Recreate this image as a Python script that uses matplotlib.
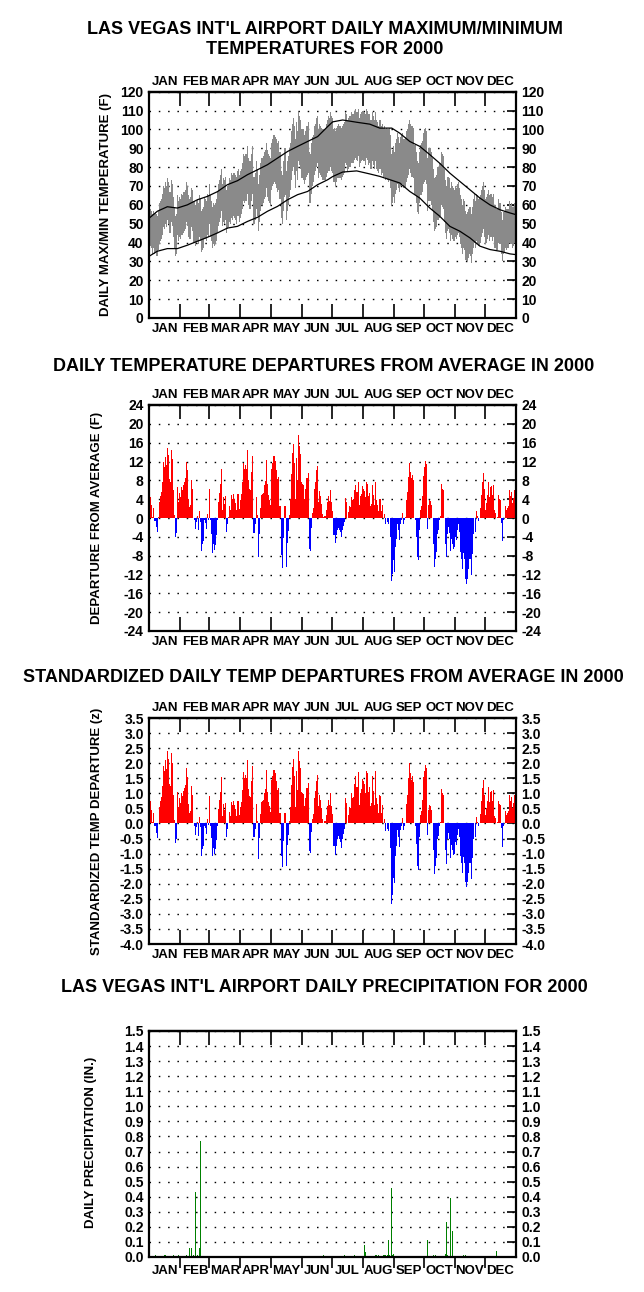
import numpy as np
import matplotlib
matplotlib.use("Agg")
import matplotlib.pyplot as plt
from matplotlib.ticker import FixedLocator, FixedFormatter, NullFormatter

plt.rcParams['font.family'] = ['Liberation Sans', 'DejaVu Sans']
plt.rcParams['font.weight'] = 'bold'
plt.rcParams['axes.unicode_minus'] = False

MONTHS = ['JAN', 'FEB', 'MAR', 'APR', 'MAY', 'JUN', 'JUL', 'AUG', 'SEP', 'OCT', 'NOV', 'DEC']
MONTH_LENGTHS = [31, 29, 31, 30, 31, 30, 31, 31, 30, 31, 30, 31]

# Daily maximum / minimum temperature (F), one line per month
TMAX = [
    61, 58, 57, 55, 57, 55, 56, 55, 54, 57, 61, 62, 63, 66, 70, 69, 72, 70, 74, 72, 67, 67, 73, 71, 64, 59, 54, 55, 65, 62, 64,
    63, 66, 65, 67, 67, 68, 72, 70, 65, 63, 64, 69, 68, 62, 62, 60, 62, 63, 61, 65, 63, 57, 58, 59, 64, 63, 62, 66, 65,
    71, 65, 62, 59, 61, 60, 61, 63, 67, 71, 73, 76, 79, 71, 74, 73, 75, 68, 70, 71, 74, 73, 77, 76, 77, 77, 76, 75, 78, 79, 76,
    78, 79, 82, 87, 86, 87, 87, 91, 85, 83, 83, 87, 91, 75, 77, 83, 79, 71, 76, 82, 85, 85, 86, 88, 89, 93, 89, 87, 86, 85,
    93, 95, 97, 97, 96, 95, 93, 94, 88, 88, 78, 76, 83, 90, 90, 78, 83, 86, 90, 93, 99, 103, 106, 102, 95, 104, 99, 109, 107, 105, 100,
    100, 100, 97, 99, 102, 102, 104, 88, 87, 93, 96, 97, 102, 103, 106, 107, 100, 103, 102, 101, 100, 100, 100, 101, 103, 105, 107, 106, 109, 107,
    106, 100, 101, 99, 101, 102, 103, 102, 102, 101, 102, 103, 104, 109, 108, 105, 106, 107, 107, 109, 108, 108, 110, 111, 109, 109, 111, 106, 108, 109, 110,
    109, 109, 108, 111, 110, 108, 108, 105, 105, 109, 107, 105, 109, 105, 104, 102, 105, 105, 102, 103, 101, 102, 100, 101, 100, 100, 101, 97, 87, 89, 91,
    88, 93, 95, 98, 96, 93, 96, 97, 98, 95, 95, 96, 99, 100, 103, 105, 103, 102, 102, 101, 92, 92, 88, 83, 82, 88, 92, 93, 94, 98,
    100, 101, 99, 85, 90, 90, 90, 88, 85, 79, 74, 75, 76, 80, 80, 82, 82, 88, 87, 86, 79, 73, 70, 75, 75, 74, 69, 72, 70, 69, 68,
    70, 69, 71, 72, 69, 65, 63, 60, 63, 62, 57, 55, 56, 58, 59, 59, 55, 59, 63, 66, 62, 66, 65, 63, 64, 65, 68, 70, 72, 68,
    63, 64, 66, 68, 65, 66, 66, 64, 66, 60, 60, 58, 58, 63, 61, 61, 56, 52, 56, 57, 59, 58, 58, 58, 62, 60, 61, 59, 59, 61, 59,
]
TMIN = [
    40, 38, 37, 34, 37, 34, 35, 33, 33, 36, 39, 41, 42, 44, 48, 47, 50, 48, 52, 50, 45, 45, 51, 49, 43, 37, 33, 34, 44, 41, 43,
    42, 44, 44, 45, 46, 47, 51, 49, 43, 42, 42, 48, 46, 40, 40, 38, 40, 41, 39, 43, 41, 35, 36, 37, 42, 42, 41, 44, 43,
    50, 43, 41, 37, 39, 38, 39, 41, 45, 49, 51, 53, 57, 49, 51, 50, 52, 45, 47, 48, 51, 50, 53, 52, 54, 53, 52, 50, 54, 54, 51,
    53, 55, 58, 62, 61, 62, 62, 66, 60, 58, 58, 62, 66, 50, 52, 58, 54, 46, 51, 57, 60, 60, 61, 63, 64, 69, 64, 62, 61, 60,
    68, 70, 71, 72, 71, 69, 67, 68, 63, 63, 53, 50, 57, 64, 65, 52, 57, 60, 64, 68, 73, 78, 80, 76, 69, 78, 73, 83, 81, 79, 74,
    74, 73, 71, 73, 75, 76, 77, 61, 61, 66, 70, 72, 76, 78, 80, 82, 74, 77, 76, 75, 73, 73, 73, 73, 75, 77, 78, 78, 80, 78,
    77, 72, 72, 70, 72, 74, 74, 74, 74, 73, 75, 76, 77, 82, 81, 78, 79, 80, 80, 82, 82, 82, 84, 85, 84, 83, 86, 80, 82, 83, 84,
    83, 83, 81, 85, 84, 81, 82, 79, 79, 83, 81, 79, 83, 79, 78, 77, 79, 79, 76, 77, 74, 75, 73, 74, 73, 72, 73, 69, 60, 61, 64,
    61, 66, 68, 71, 69, 67, 70, 70, 71, 69, 69, 69, 72, 74, 76, 79, 77, 75, 75, 74, 65, 65, 61, 56, 55, 61, 65, 65, 67, 71,
    72, 73, 71, 57, 62, 62, 62, 60, 57, 51, 46, 47, 48, 52, 52, 53, 54, 60, 59, 58, 51, 45, 42, 46, 47, 45, 41, 44, 42, 41, 41,
    43, 42, 44, 45, 43, 39, 37, 34, 37, 36, 31, 30, 30, 32, 34, 33, 29, 34, 37, 40, 37, 41, 39, 38, 38, 40, 43, 45, 47, 43,
    39, 40, 42, 44, 41, 43, 43, 41, 43, 37, 37, 36, 36, 40, 39, 39, 34, 30, 34, 35, 37, 36, 37, 37, 40, 39, 39, 37, 38, 40, 38,
]

# Normal (average) max / min curves, read at these day positions
NORM_DAY = [0, 8, 18, 28, 38, 48, 58, 68, 78, 88, 98, 108, 118, 128, 138, 148, 158, 168, 178, 183,
            193, 207, 220, 230, 242, 250, 260, 270, 280, 290, 300, 310, 320, 330, 340, 350, 360, 366]
NORM_MAX = [53, 56.6, 59, 58.3, 60, 62.7, 64.5, 67, 70.7, 72.8, 76, 78.6, 81.3, 84.8, 88.3, 91, 93.6, 96.2, 101.5, 104,
            105, 103.8, 102.8, 100.7, 100.7, 98, 93.6, 91, 86.6, 82, 76.8, 72.4, 68, 63.6, 60, 57.4, 55.7, 54.8]
NORM_MIN = [32.8, 35.4, 36.8, 36.8, 38.6, 40.7, 42.8, 45.1, 47.7, 48.6, 51.2, 53.4, 56.6, 59.2, 62.7, 65.4, 67.1, 70.7, 73.3, 75,
            77.4, 78, 76.4, 75.1, 73, 71.6, 67.1, 63.6, 58.3, 53.9, 48.6, 46, 42.5, 38.1, 36.3, 35.4, 34, 33.6]

# Daily departure of mean temperature from average (F)
DEPARTURE = [
    7, 4.5, 2.7, 0.3, 2.1, -0.6, -0.6, -2, -3, 0.2, 3.4, 4.6, 5.5, 7.7, 11.8, 10.8, 13, 11.2, 14.8, 13.3, 8.2, 7.7, 14.5, 12.5, 5.9, 0.6, -4, -3.2, 6.5, 3.4, 5.3,
    4.5, 6.6, 5.9, 7, 7.7, 8.4, 12, 10.1, 4.1, 2.3, 2.7, 8, 6.2, 0, -0.5, -2.4, -0.8, 0.4, -2.6, 1.5, -0.8, -7, -5.6, -4.8, -0.5, -1, -2.3, 0.9, -0.4,
    6.1, -0.5, -3.3, -7.4, -5.5, -6.9, -5.8, -3.7, -0.5, 3.3, 5.3, 7.2, 10.4, 1.8, 4.5, 3, 4.6, -3, -1.2, 0.2, 2.5, 1.8, 4.8, 4.1, 5.2, 4.1, 3.2, 1.8, 5, 5.2, 2,
    3.8, 5, 7.7, 11.7, 10.5, 11.2, 10.5, 14.4, 8, 6.2, 6, 9.8, 13.2, -3.2, -1.2, 4.5, 0.6, -8.2, -3.3, 2.2, 4.8, 5.2, 5.3, 7, 7.9, 12.3, 7.3, 4.8, 3.9, 2.7,
    10.5, 11.6, 13.1, 13.1, 12.1, 10.3, 8.2, 8.7, 2.6, 2.5, -7.9, -10.6, -4.2, 2.5, 2.5, -10.4, -5.3, -2.8, 0.6, 4.1, 9.3, 13.7, 15.7, 11.6, 4.1, 12.8, 8, 17.6, 15.2, 13.5, 7.7,
    7.3, 7, 4.1, 6.2, 8.4, 8.4, 9.6, -6.5, -7, -2.1, 1.1, 2.2, 6.2, 7.7, 10.1, 11.1, 3.4, 5.7, 4.6, 3, 0.9, 0.2, 0.4, 0.4, 1.6, 3.4, 4.6, 3.6, 6, 3.4,
    1.5, -3.7, -3.7, -5.3, -3.7, -2.6, -2.1, -2.6, -3, -4, -2.6, -1.8, -0.9, 4.3, 3.4, 0, 1.3, 2.5, 2.3, 4.5, 3.8, 4, 5.9, 7, 5.5, 5.5, 7.7, 2.7, 4.6, 5.2, 6.7,
    6.2, 5.7, 4.5, 7.7, 7.3, 4.6, 5.3, 2.5, 3, 7, 4.8, 2.7, 7.7, 3.8, 2.8, 1.5, 4.1, 4, 1.5, 2.7, 0, 0.8, -1.2, 0, -0.9, -1.2, 0, -4, -13.3, -11.8, -9,
    -11.5, -6.2, -4.4, -1.2, -2.6, -4.6, -1.3, -0.5, 1.1, -1.2, -0.4, 0.2, 3.8, 5.5, 8.7, 11.6, 9.8, 8.4, 9.1, 8, 0, -0.5, -4, -8.2, -9, -2.6, 1.6, 2.5, 4.6, 9,
    10.8, 12.1, 11.5, -2.3, 2.7, 3.8, 3.6, 2.7, 0, -5.5, -10.4, -8.7, -7.2, -3.3, -2.6, -0.5, 0.4, 7.2, 6.2, 5.9, 0, -5.5, -8.3, -3.3, -1.9, -3.2, -7, -4.4, -5.5, -6.5, -6.2,
    -4, -4.6, -2.6, -1.3, -3, -7.2, -8.7, -10.8, -7.4, -8.7, -12.9, -14, -12.9, -10.8, -8.7, -8.7, -12.2, -7.6, -3.3, 0, -3, 1.5, 0.4, -0.6, 0, 2.2, 4.8, 7.7, 9.6, 6.2,
    1.8, 3.2, 4.8, 7.7, 4.5, 6.6, 6.8, 4.8, 7, 1.6, 1.1, 0, 0.3, 4.8, 4, 3.8, -1, -4.9, -0.5, 0, 2.5, 1.8, 2.2, 2.5, 5.9, 4.6, 5.5, 3.2, 4.3, 6, 3.9,
]

# Standardized daily departure (z)
Z_DEPARTURE = [
    1.13, 0.73, 0.44, 0.05, 0.34, -0.10, -0.10, -0.32, -0.48, 0.03, 0.55, 0.74, 0.89, 1.24, 1.90, 1.74, 2.10, 1.81, 2.39, 2.15, 1.32, 1.24, 2.34, 2.02, 0.95, 0.10, -0.65, -0.52, 1.05, 0.55, 0.85,
    0.69, 1.02, 0.91, 1.08, 1.18, 1.29, 1.85, 1.55, 0.63, 0.35, 0.42, 1.23, 0.95, 0, -0.08, -0.37, -0.12, 0.06, -0.40, 0.23, -0.12, -1.08, -0.86, -0.74, -0.08, -0.15, -0.35, 0.14, -0.06,
    0.90, -0.07, -0.49, -1.09, -0.81, -1.01, -0.85, -0.54, -0.07, 0.49, 0.78, 1.06, 1.53, 0.26, 0.66, 0.44, 0.68, -0.44, -0.18, 0.03, 0.37, 0.26, 0.71, 0.60, 0.76, 0.60, 0.47, 0.26, 0.74, 0.76, 0.29,
    0.55, 0.72, 1.12, 1.70, 1.52, 1.62, 1.52, 2.09, 1.16, 0.90, 0.87, 1.42, 1.91, -0.46, -0.17, 0.65, 0.09, -1.19, -0.48, 0.32, 0.70, 0.75, 0.77, 1.01, 1.14, 1.78, 1.06, 0.70, 0.57, 0.39,
    1.44, 1.59, 1.79, 1.79, 1.66, 1.41, 1.12, 1.19, 0.36, 0.34, -1.08, -1.45, -0.58, 0.34, 0.34, -1.42, -0.73, -0.38, 0.08, 0.56, 1.27, 1.88, 2.15, 1.59, 0.56, 1.75, 1.10, 2.41, 2.08, 1.85, 1.05,
    1.01, 0.97, 0.57, 0.86, 1.17, 1.17, 1.33, -0.90, -0.97, -0.29, 0.15, 0.31, 0.86, 1.07, 1.40, 1.60, 0.57, 0.95, 0.77, 0.50, 0.15, 0.03, 0.07, 0.07, 0.27, 0.57, 0.77, 0.60, 1.00, 0.57,
    0.30, -0.74, -0.74, -1.06, -0.74, -0.52, -0.42, -0.52, -0.60, -0.80, -0.52, -0.36, -0.18, 0.86, 0.68, 0, 0.29, 0.56, 0.51, 1.00, 0.84, 0.89, 1.31, 1.56, 1.22, 1.22, 1.71, 0.60, 1.02, 1.16, 1.49,
    1.41, 1.30, 1.02, 1.75, 1.66, 1.05, 1.20, 0.57, 0.68, 1.59, 1.09, 0.61, 1.75, 0.86, 0.64, 0.34, 0.93, 0.91, 0.34, 0.61, 0, 0.16, -0.24, 0, -0.18, -0.24, 0, -0.80, -2.66, -2.36, -1.80,
    -1.98, -1.07, -0.76, -0.21, -0.45, -0.79, -0.22, -0.09, 0.19, -0.21, -0.07, 0.03, 0.66, 0.95, 1.50, 2.00, 1.69, 1.45, 1.57, 1.38, 0, -0.09, -0.69, -1.41, -1.55, -0.45, 0.28, 0.43, 0.79, 1.55,
    1.74, 1.95, 1.85, -0.37, 0.44, 0.61, 0.58, 0.44, 0, -0.89, -1.68, -1.40, -1.16, -0.53, -0.42, -0.08, 0.06, 1.16, 1.00, 0.95, 0, -0.89, -1.34, -0.53, -0.31, -0.52, -1.13, -0.71, -0.89, -1.05, -1.00,
    -0.61, -0.70, -0.39, -0.20, -0.45, -1.09, -1.32, -1.64, -1.12, -1.32, -1.95, -2.12, -1.95, -1.64, -1.32, -1.32, -1.85, -1.15, -0.50, 0, -0.45, 0.23, 0.06, -0.09, 0, 0.33, 0.73, 1.17, 1.45, 0.94,
    0.29, 0.51, 0.76, 1.22, 0.71, 1.05, 1.08, 0.76, 1.11, 0.25, 0.17, 0, 0.05, 0.76, 0.63, 0.60, -0.16, -0.78, -0.08, 0, 0.40, 0.29, 0.35, 0.40, 0.94, 0.73, 0.87, 0.51, 0.68, 0.95, 0.62,
]

# Daily precipitation (inches): day of year and amount
PRCP_DAY = [7, 16, 17, 25, 30, 38, 41, 43, 45, 47, 49, 51, 52, 54, 57, 59, 65, 67, 80, 87, 108, 145, 174,
            195, 205, 215, 216, 226, 227, 229, 234, 235, 236, 238, 239, 240, 242, 243, 244,
            278, 284, 286, 296, 297, 298, 301, 303, 314, 316, 347]
PRCP_IN = [0.01, 0.01, 0.01, 0.01, 0.01, 0.01, 0.06, 0.06, 0.01, 0.43, 0.01, 0.06, 0.77, 0.20, 0.01, 0.01, 0.10, 0.12, 0.01, 0.01, 0.01, 0.01, 0.01,
           0.01, 0.01, 0.08, 0.03, 0.01, 0.01, 0.01, 0.01, 0.01, 0.01, 0.01, 0.11, 0.01, 0.46, 0.01, 0.02,
           0.11, 0.01, 0.01, 0.02, 0.23, 0.01, 0.39, 0.17, 0.01, 0.01, 0.04]

W, H = 644, 1292
fig = plt.figure(figsize=(W / 100, H / 100), dpi=100)
fig.patch.set_facecolor('white')


def fx(x):
    return x / W


def fy(y):
    return 1 - y / H


def axes_px(left, top, right, bottom):
    return fig.add_axes([left / W, 1 - bottom / H, (right - left) / W, (bottom - top) / H])


bounds = np.cumsum([0] + MONTH_LENGTHS)
mids = (bounds[:-1] + bounds[1:]) / 2.0

TICK_FS = 10
MONTH_FS = 9.5
TITLE_FS = 13
LABEL_FS = 9.5


def style(ax, ylim, yticks, ylabels, top_labels=True, bottom_out=False):
    ax.set_xlim(0, bounds[-1])
    ax.set_ylim(*ylim)
    for s in ax.spines.values():
        s.set_linewidth(1.6)
    # bottom x axis: month boundary ticks + month names
    ax.xaxis.set_major_locator(FixedLocator(bounds[1:-1]))
    ax.xaxis.set_major_formatter(NullFormatter())
    ax.xaxis.set_minor_locator(FixedLocator(mids))
    ax.xaxis.set_minor_formatter(FixedFormatter(MONTHS))
    ax.tick_params(axis='x', which='major', direction='out' if bottom_out else 'in',
                   length=8 if bottom_out else 10, width=1.2, top=False, bottom=True)
    ax.tick_params(axis='x', which='minor', length=0, labelsize=MONTH_FS,
                   pad=(5.5 if bottom_out else 3.5), top=False, bottom=True)
    # top x axis
    sec = ax.secondary_xaxis('top')
    sec.xaxis.set_major_locator(FixedLocator(bounds[1:-1]))
    sec.xaxis.set_major_formatter(NullFormatter())
    sec.tick_params(axis='x', which='major', direction='in', length=10, width=1.2)
    sec.spines['top'].set_linewidth(1.6)
    if top_labels:
        sec.xaxis.set_minor_locator(FixedLocator(mids))
        sec.xaxis.set_minor_formatter(FixedFormatter(MONTHS))
        sec.tick_params(axis='x', which='minor', length=0, labelsize=MONTH_FS, pad=3.0)
    else:
        sec.xaxis.set_minor_locator(FixedLocator([]))
    # y axis
    ax.yaxis.set_major_locator(FixedLocator(yticks))
    ax.yaxis.set_major_formatter(FixedFormatter(ylabels))
    ax.tick_params(axis='y', which='major', direction='in', length=6.5, width=1.2,
                   left=False, right=True, labelleft=True, labelright=True,
                   labelsize=TICK_FS, pad=4)
    ax.yaxis.grid(True, color='black', linewidth=1.0, linestyle=(0, (1.1, 5.6)))
    ax.set_axisbelow(True)


days = np.arange(1, len(TMAX) + 1)
xc = days - 0.5

# ---------------- Panel 1: daily max/min ----------------
ax1 = axes_px(149.3, 91.7, 516, 318)
tmax = np.array(TMAX, dtype=float)
tmin = np.array(TMIN, dtype=float)
ax1.bar(xc, tmax - tmin, bottom=tmin, width=1.0, color='#8a8a8a', linewidth=0,
        antialiased=False, zorder=2)
ax1.plot(NORM_DAY, NORM_MAX, color='black', linewidth=0.9, zorder=3)
ax1.plot(NORM_DAY, NORM_MIN, color='black', linewidth=0.9, zorder=3)
t1 = list(range(0, 121, 10))
style(ax1, (0, 120), t1, [str(v) for v in t1])
fig.text(fx(325), fy(30), "LAS VEGAS INT'L AIRPORT DAILY MAXIMUM/MINIMUM",
         ha='center', va='center', fontsize=TITLE_FS, fontweight='bold')
fig.text(fx(325), fy(50), "TEMPERATURES FOR 2000",
         ha='center', va='center', fontsize=TITLE_FS, fontweight='bold')
fig.text(fx(106), fy(205), "DAILY MAX/MIN TEMPERATURE (F)", rotation=90,
         ha='center', va='center', fontsize=LABEL_FS, fontweight='bold')

# ---------------- Panel 2: departures ----------------
ax2 = axes_px(149.3, 405, 516, 631)
dep = np.array(DEPARTURE, dtype=float)
ax2.bar(np.arange(1, len(dep) + 1) - 0.5, dep, width=1.0,
        color=np.where(dep >= 0, '#ff0000', '#0000ff'), linewidth=0,
        antialiased=False, zorder=2)
t2 = list(range(-24, 25, 4))
style(ax2, (-24, 24), t2, [str(v) for v in t2])
fig.text(fx(324), fy(367), "DAILY TEMPERATURE DEPARTURES FROM AVERAGE IN 2000",
         ha='center', va='center', fontsize=TITLE_FS, fontweight='bold')
fig.text(fx(97), fy(518), "DEPARTURE FROM AVERAGE (F)", rotation=90,
         ha='center', va='center', fontsize=LABEL_FS, fontweight='bold')

# ---------------- Panel 3: standardized departures ----------------
ax3 = axes_px(149.3, 718, 516, 944)
z = np.array(Z_DEPARTURE, dtype=float)
ax3.bar(np.arange(1, len(z) + 1) - 0.5, z, width=1.0,
        color=np.where(z >= 0, '#ff0000', '#0000ff'), linewidth=0,
        antialiased=False, zorder=2)
t3 = [round(-4.0 + 0.5 * i, 1) for i in range(16)]
style(ax3, (-4.0, 3.5), t3, ['%.1f' % (v + 0.0) for v in t3])
fig.text(fx(323), fy(678), "STANDARDIZED DAILY TEMP DEPARTURES FROM AVERAGE IN 2000",
         ha='center', va='center', fontsize=TITLE_FS, fontweight='bold')
fig.text(fx(97), fy(831), "STANDARDIZED TEMP DEPARTURE (z)", rotation=90,
         ha='center', va='center', fontsize=LABEL_FS, fontweight='bold')

# ---------------- Panel 4: precipitation ----------------
ax4 = axes_px(149.3, 1031, 516, 1257)
ax4.bar(np.array(PRCP_DAY) - 0.5, PRCP_IN, width=0.8, color='#008000',
        linewidth=0, zorder=2)
t4 = [round(0.1 * i, 1) for i in range(16)]
style(ax4, (0, 1.5), t4, ['%.1f' % v for v in t4], top_labels=False, bottom_out=True)
fig.text(fx(324), fy(988), "LAS VEGAS INT'L AIRPORT DAILY PRECIPITATION FOR 2000",
         ha='center', va='center', fontsize=TITLE_FS, fontweight='bold')
fig.text(fx(91), fy(1142), "DAILY PRECIPITATION (IN.)", rotation=90,
         ha='center', va='center', fontsize=LABEL_FS, fontweight='bold')

fig.savefig('out.png', dpi=100, facecolor='white')
